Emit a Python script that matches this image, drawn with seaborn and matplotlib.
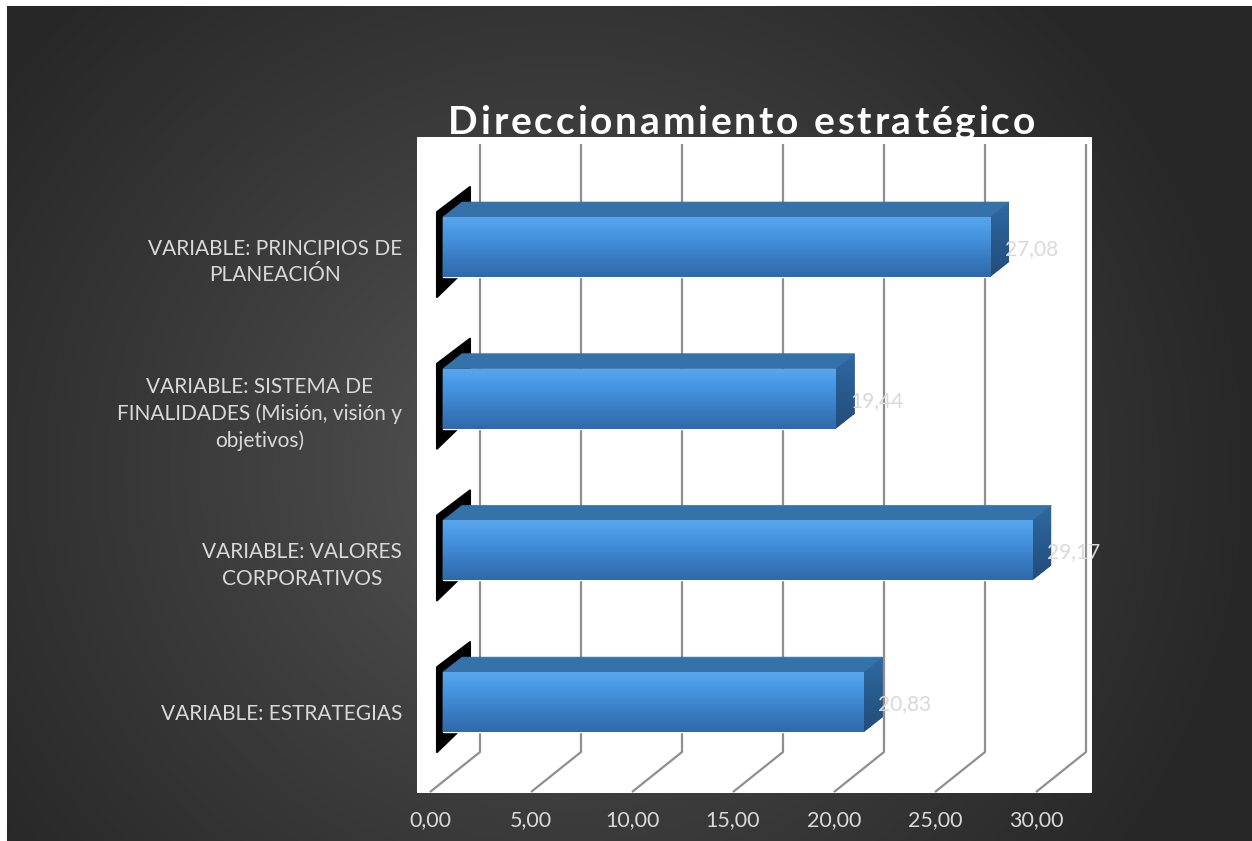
import numpy as np
import pandas as pd
import matplotlib
matplotlib.use("Agg")
import matplotlib.pyplot as plt
import seaborn as sns
from matplotlib.colors import LinearSegmentedColormap
from matplotlib.patches import Polygon
from matplotlib.transforms import ScaledTranslation

# ---------------- data ----------------
categories = [
    "VARIABLE: PRINCIPIOS DE\nPLANEACIÓN",
    "VARIABLE: SISTEMA DE\nFINALIDADES (Misión, visión y\nobjetivos)",
    "VARIABLE: VALORES\nCORPORATIVOS",
    "VARIABLE: ESTRATEGIAS",
]
values = [27.08, 19.44, 29.17, 20.83]
value_labels = ["27,08", "19,44", "29,17", "20,83"]
xtick_values = [0, 5, 10, 15, 20, 25, 30]
xtick_labels = ["0,00", "5,00", "10,00", "15,00", "20,00", "25,00", "30,00"]
title = "Direccionamiento estratégico"

# ---------------- style ----------------
sns.set_theme(style="white")
plt.rcParams['font.family'] = ['Lato', 'DejaVu Sans']

W, H = 1252, 841
fig = plt.figure(figsize=(W / 100, H / 100), dpi=100, facecolor='white')

# dark radial-gradient background (white strip on top/left like the reference)
bg = fig.add_axes([7 / W, 0, 1 - 7 / W, (H - 6) / H], zorder=0)
yy, xx = np.mgrid[6:H, 7:W]
d = np.hypot(xx - 560.0, (yy - 470.0) * 1.05)
t = np.clip(d / 700.0, 0, 1) ** 0.8
c0 = np.array([0x5a, 0x5a, 0x5a]) / 255
c1 = np.array([0x27, 0x27, 0x27]) / 255
img = c0[None, None, :] * (1 - t[..., None]) + c1[None, None, :] * t[..., None]
bg.imshow(img, aspect='auto', interpolation='bilinear')
bg.axis('off')

# pixel helpers for the pseudo-3D geometry
PX_X, X0 = 20.2, 443.0
PX_Y, Y0 = 151.7, 247.0
def dx(px):
    return px / PX_X
def dy(px):
    return px / PX_Y

L, R, T, B = 417, 1092, 137, 793
ax = fig.add_axes([L / W, (H - B) / H, (R - L) / W, (B - T) / H], zorder=1)
ax.set_facecolor('white')

df = pd.DataFrame({"cat": categories, "val": values})
sns.barplot(data=df, x="val", y="cat", orient="h", width=0.395,
            color="#3f88d4", saturation=1, ax=ax, zorder=3)

xlim = ((L - X0) / PX_X, (R - X0) / PX_X)
ylim = ((B - Y0) / PX_Y, (T - Y0) / PX_Y)

# back-wall gridlines with floor diagonals
for v in xtick_values:
    ax.plot([v + dx(37), v + dx(37), v - dx(13)],
            [dy(144 - Y0), dy(752 - Y0), dy(792 - Y0)],
            color='#8f8f8f', lw=1.6, zorder=1, solid_capstyle='butt')

front_cmap = LinearSegmentedColormap.from_list(
    'front', ['#5aa6ee', '#4798e4', '#3f88d2', '#3677bd', '#2f6aa9'])
side_cmap = LinearSegmentedColormap.from_list(
    'side', ['#2f6aa3', '#285a8d', '#224d7a'])

ddx, ddy = dx(19), dy(15)
for p, v, lab in zip(ax.patches, values, value_labels):
    x0 = p.get_x()
    w = p.get_width()
    y = p.get_y()
    h = p.get_height()
    top, bot = y, y + h
    x1 = x0 + w
    # black end cap at zero
    cap = Polygon([(x0 - dx(6), top - dy(5)), (x0 + dx(27), top - dy(30)),
                   (x0 + dx(27), bot - dy(12)), (x0 - dx(6), bot + dy(20))],
                  closed=True, fc='black', ec='black', lw=1.5,
                  joinstyle='round', zorder=2)
    ax.add_patch(cap)
    # top face
    topf = Polygon([(x0, top), (x0 + ddx, top - ddy), (x1 + ddx, top - ddy), (x1, top)],
                   closed=True, fc='#3572aa', ec='#3572aa', lw=0.5, zorder=3)
    ax.add_patch(topf)
    # right side face
    side = Polygon([(x1, top), (x1 + ddx, top - ddy), (x1 + ddx, bot - ddy), (x1, bot)],
                   closed=True, fc='#2a5d91', ec='none', zorder=3)
    ax.add_patch(side)
    ax.imshow(np.linspace(0, 1, 64)[:, None], extent=(x1, x1 + ddx, bot, top - ddy),
              origin='upper', cmap=side_cmap, aspect='auto', clip_path=side, zorder=3.2)
    # front face gradient
    ax.imshow(np.linspace(0, 1, 128)[:, None], extent=(x0, x1, bot, top),
              origin='upper', cmap=front_cmap, aspect='auto', clip_path=p, zorder=3.5)
    # value label
    ax.annotate(lab, (x1, (top + bot) / 2), xytext=(10.5, -1.5), textcoords='offset points',
                ha='left', va='center', color='#d9d9d9', fontsize=15,
                zorder=5, annotation_clip=False)

ax.set_xlim(*xlim)
ax.set_ylim(*ylim)
for s in ax.spines.values():
    s.set_visible(False)

ax.set_xlabel("")
ax.set_ylabel("")
ax.set_xticks([v - dx(13) for v in xtick_values])
ax.set_xticklabels(xtick_labels)
ax.tick_params(axis='x', length=0, pad=12, colors='#d9d9d9', labelsize=15.5)
ax.tick_params(axis='y', length=0, pad=10.8, colors='#d9d9d9', labelsize=15)
off = ScaledTranslation(0, -10 / 100, fig.dpi_scale_trans)
for lbl in ax.get_yticklabels():
    lbl.set_horizontalalignment('right')
    lbl.set_multialignment('center')
    lbl.set_linespacing(1.4)
    lbl.set_transform(lbl.get_transform() + off)

# title with letter spacing (Excel-like character spacing)
renderer = fig.canvas.get_renderer()
tprops = dict(fontsize=28, fontweight='bold', color='white')
meas = fig.text(0, 0, "", **tprops)
def width_px(s):
    meas.set_text(s)
    return meas.get_window_extent(renderer).width
target_left, target_right = 448, 1035
natural = width_px(title)
spacing = (target_right - target_left - natural) / (len(title) - 1)
meas.remove()
meas = fig.text(0, 0, "", **tprops)
for i, ch in enumerate(title):
    if ch == " ":
        continue
    left = width_px(title[:i + 1]) - width_px(ch) if i > 0 else 0.0
    fig.text((target_left + left + i * spacing) / W, 1 - 134 / H, ch,
             ha='left', va='baseline', zorder=3, **tprops)
meas.remove()

fig.savefig("out.png", dpi=100, facecolor=fig.get_facecolor())
